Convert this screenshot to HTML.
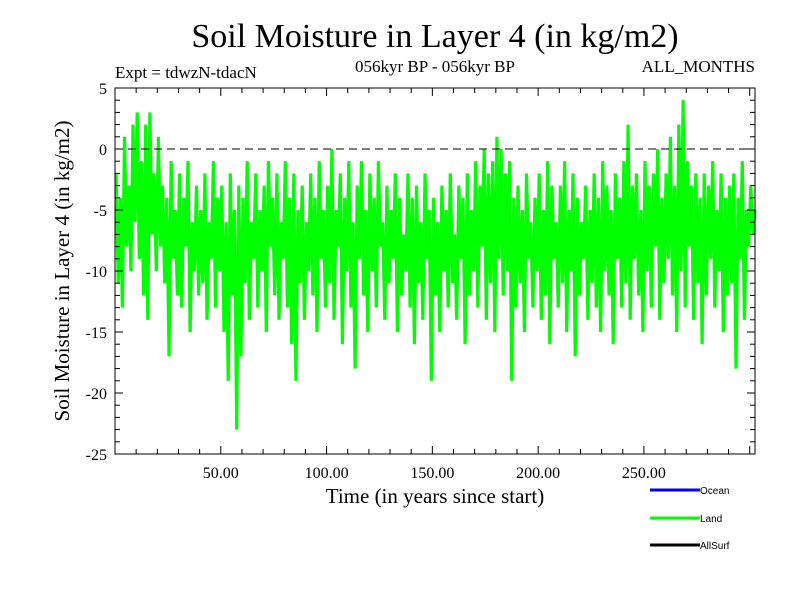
<!DOCTYPE html>
<html><head><meta charset="utf-8"><style>
body{margin:0;background:#fff}
svg text{font-family:"Liberation Serif",serif}
</style></head><body>
<svg id="chart" width="800" height="600" xmlns="http://www.w3.org/2000/svg">
<rect width="800" height="600" fill="#fff"/>
<text x="435" y="47" font-size="34" text-anchor="middle">Soil Moisture in Layer 4 (in kg/m2)</text>
<text x="115" y="78" font-size="17">Expt = tdwzN-tdacN</text>
<text x="435" y="72" font-size="17" text-anchor="middle">056kyr BP - 056kyr BP</text>
<text x="755" y="72" font-size="17" text-anchor="end">ALL_MONTHS</text>
<text x="435" y="503" font-size="21" text-anchor="middle">Time (in years since start)</text>
<text transform="translate(69,271) rotate(-90)" font-size="21" text-anchor="middle">Soil Moisture in Layer 4 (in kg/m2)</text>
<g id="plot"></g>
<g font-size="10">
<g><line x1="650" y1="490" x2="700" y2="490" stroke="#0000ff" stroke-width="3"/><text x="700" y="494" style="font-family:'Liberation Sans',sans-serif">Ocean</text></g>
<g><line x1="650" y1="518" x2="700" y2="518" stroke="#00ff00" stroke-width="3"/><text x="700" y="522" style="font-family:'Liberation Sans',sans-serif">Land</text></g>
<g><line x1="650" y1="545" x2="700" y2="545" stroke="#000" stroke-width="3"/><text x="700" y="549" style="font-family:'Liberation Sans',sans-serif">AllSurf</text></g>
</g>
</svg>
<script>
const landValues=[-2,-11,-4,-13,1,-8,-3,-10,2,-6,
3,-9,-1,-12,2,-14,3,-7,-2,-10,
1,-8,-3,-11,-4,-17,-1,-9,-5,-12,
-2,-13,-4,-8,-1,-15,-6,-10,-3,-12,
-5,-11,-2,-14,-6,-9,-1,-13,-4,-10,
-3,-15,-6,-19,-2,-12,-5,-23,-3,-17,
-4,-11,-1,-14,-6,-9,-2,-13,-5,-10,
-3,-15,-1,-8,-4,-12,-2,-14,-6,-9,
-1,-13,-4,-16,-2,-19,-5,-11,-3,-14,
-6,-10,-2,-12,-4,-15,-1,-9,-5,-13,
-3,-11,0,-14,-5,-8,-2,-16,-4,-10,
-1,-13,-6,-18,-3,-9,-1,-12,-5,-15,
-2,-10,-4,-13,-1,-8,-6,-14,-3,-11,
-5,-9,-2,-15,-4,-12,-7,-10,-2,-13,
-4,-16,-3,-11,-6,-14,-2,-9,-5,-19,
-4,-12,-6,-15,-3,-10,-5,-13,-2,-11,
-7,-14,-3,-9,-4,-16,-2,-12,-5,-10,
-1,-13,-3,-8,0,-14,-2,-11,-1,-15,
1,-9,0,-12,-2,-10,-1,-19,-4,-13,
-3,-11,-5,-15,-2,-9,-6,-13,-4,-10,
-2,-14,-5,-12,-1,-16,-3,-9,-6,-13,
-3,-11,-1,-15,-5,-10,-2,-17,-4,-12,
-6,-9,-3,-14,-5,-11,-2,-13,-4,-15,
-1,-10,-3,-12,-5,-16,-2,-9,-4,-13,
-1,-11,2,-14,-3,-9,-2,-12,-5,-15,
-1,-10,-3,-13,-2,-8,0,-14,-4,-11,
-2,-9,1,-12,-3,-15,2,-10,4,-13,
-1,-8,-3,-14,-2,-11,-4,-16,-2,-12,
-3,-9,-1,-13,-5,-10,-2,-15,-4,-12,
-3,-11,-2,-18,-4,-9,-1,-14,-5,-8,
-3,-7,-5];
const xTickLabels=["50.00","100.00","150.00","200.00","250.00"];
const xTickValues=[50,100,150,200,250];
const yTickValues=[5,0,-5,-10,-15,-20,-25];
const L=115,R=755,T=88,B=454,XMIN=0,XMAX=302.5,YMIN=-25,YMAX=5;
function sx(v){return L+(v-XMIN)/(XMAX-XMIN)*(R-L);}
function sy(v){return T+(YMAX-v)/(YMAX-YMIN)*(B-T);}
const NS="http://www.w3.org/2000/svg";
const g=document.getElementById('plot');
function mk(tag,attrs,parent){const e=document.createElementNS(NS,tag);for(const k in attrs)e.setAttribute(k,attrs[k]);(parent||g).appendChild(e);return e;}
let d='';
landValues.forEach((v,i)=>{d+=(i?'L':'M')+sx(i+0.5).toFixed(1)+' '+sy(v).toFixed(1);});
const line=mk('path',{d:d,fill:'none',stroke:'#00ff00','stroke-width':3.2,'stroke-linejoin':'bevel'});


const zero=mk('line',{x1:L,x2:R,y1:sy(0),y2:sy(0),stroke:'#000','stroke-dasharray':'8,5','stroke-width':1});


const frame=mk('rect',{x:L,y:T,width:R-L,height:B-T,fill:'none',stroke:'#000','stroke-width':1});


for(let v=YMIN;v<=YMAX;v++){const major=v%5===0;const len=major?8:5;
mk('line',{x1:L,x2:L+len,y1:sy(v),y2:sy(v),stroke:'#000'});
mk('line',{x1:R-len,x2:R,y1:sy(v),y2:sy(v),stroke:'#000'});}
yTickValues.forEach(v=>{const t=mk('text',{x:L-8,y:sy(v)+6,'font-size':16,'text-anchor':'end'});t.textContent=String(v);

});
for(let v=10;v<=300;v+=10){const major=v%50===0;const len=major?8:5;
mk('line',{x1:sx(v),x2:sx(v),y1:B-len,y2:B,stroke:'#000'});
mk('line',{x1:sx(v),x2:sx(v),y1:T,y2:T+len,stroke:'#000'});}
xTickValues.forEach((v,i)=>{const t=mk('text',{x:sx(v),y:B+24,'font-size':16,'text-anchor':'middle'});t.textContent=xTickLabels[i];

});
</script>
</body></html>
